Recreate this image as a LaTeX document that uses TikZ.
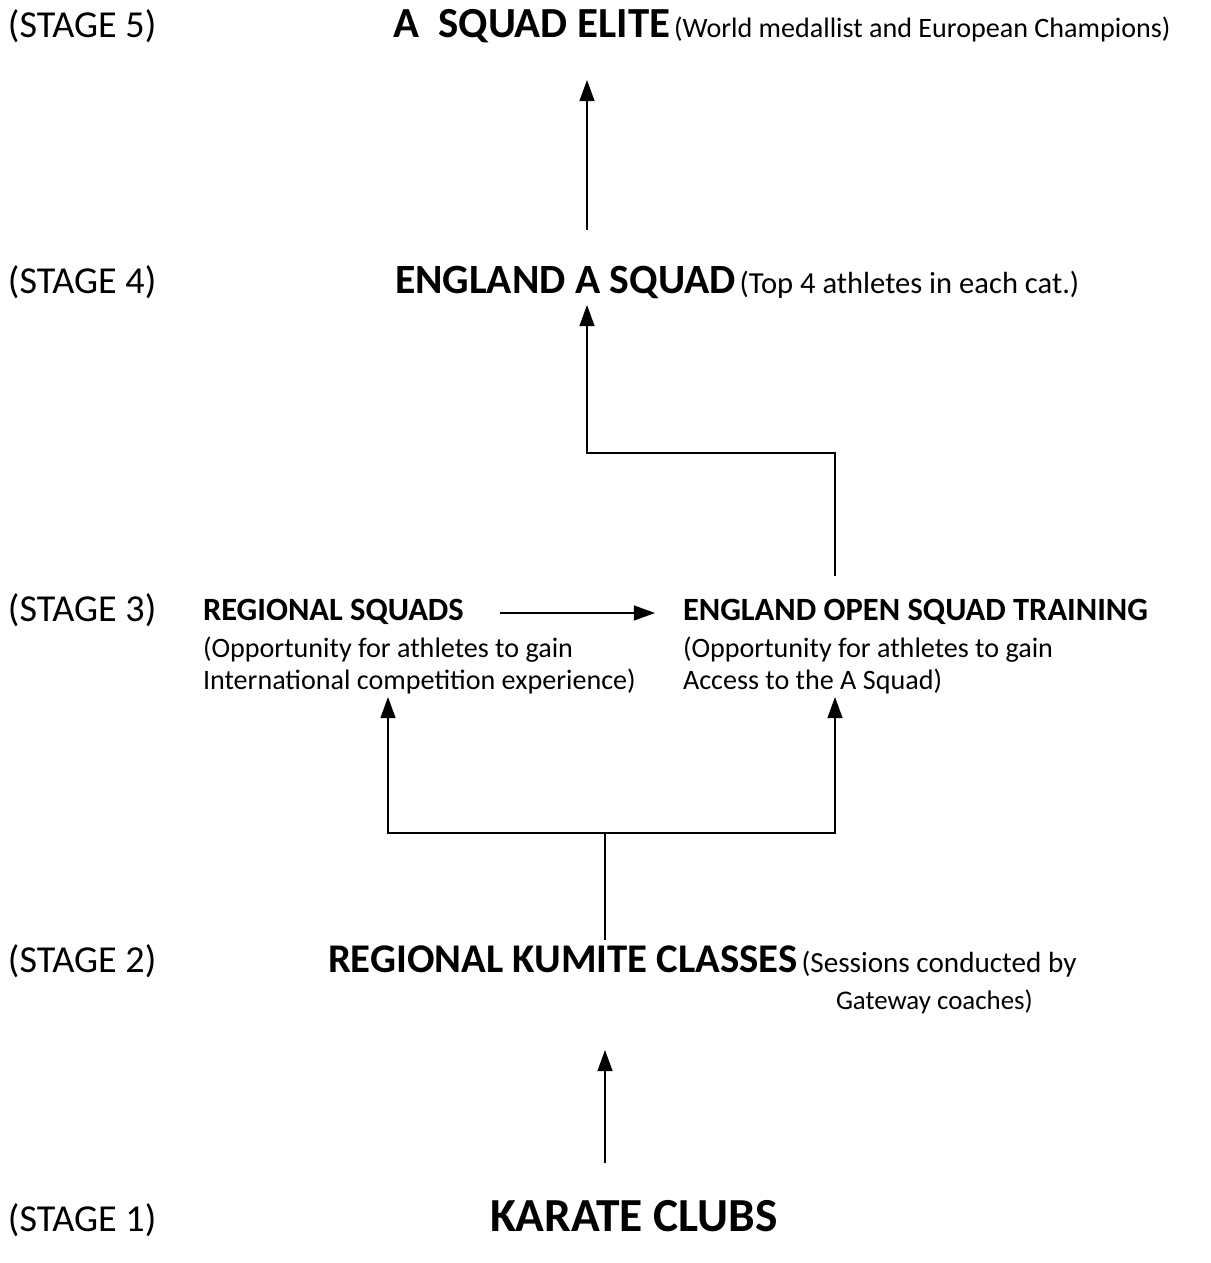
\documentclass[tikz,border=0pt]{standalone}
\usepackage{fontspec}
\setmainfont{Carlito}
\usetikzlibrary{arrows.meta}

\newcommand{\stagefont}{\fontsize{21.7}{25}\selectfont}
\newcommand{\headfont}{\fontsize{23.7}{28}\selectfont\bfseries}
\newcommand{\subheadfont}{\fontsize{18.5}{22}\selectfont\bfseries}
\newcommand{\notefont}{\fontsize{16.3}{19}\selectfont}
\newcommand{\bodyfont}{\fontsize{16}{18.2}\selectfont}

\begin{document}
\begin{tikzpicture}[x=0.02cm,y=-0.02cm,
		every node/.style={inner sep=0pt,outer sep=0pt,anchor=base west},
		stage/.style={font=\stagefont},
		arr/.style={line width=0.9pt,-{Triangle[length=12pt,width=8.5pt]}},
		ln/.style={line width=0.9pt}]
		\useasboundingbox (0,0) rectangle (1210,1263);
		% stage labels
		\node[stage] (s5) at (8,38) {(STAGE 5)};
		\node[stage] (s4) at (8,294) {(STAGE 4)};
		\node[stage] (s3) at (8,621) {(STAGE 3)};
		\node[stage] (s2) at (8,972) {(STAGE 2)};
		\node[stage] (s1) at (8,1231) {(STAGE 1)};
		% levels
		\node (elite) at (393,38) {{\headfont\fontsize{24.4}{28}\selectfont A\ \ SQUAD ELITE} {\notefont\fontsize{16}{19}\selectfont (World medallist and European Champions)}};
		\node (asquad) at (395,294) {{\headfont ENGLAND A SQUAD} {\notefont\fontsize{17.4}{20}\selectfont (Top 4 athletes in each cat.)}};
		\node[font=\subheadfont] (regsq) at (203,620) {REGIONAL SQUADS};
		\node[font=\bodyfont,align=left] (regtxt) at (203,689) {(Opportunity for athletes to gain\\International competition experience)};
		\node[font=\subheadfont] (open) at (683,620) {ENGLAND OPEN SQUAD TRAINING};
		\node[font=\bodyfont,align=left] (opentxt) at (683,689) {(Opportunity for athletes to gain\\Access to the A Squad)};
		\node (kumite) at (328,972) {{\headfont\fontsize{23.2}{28}\selectfont REGIONAL KUMITE CLASSES} {\notefont\fontsize{16.6}{19}\selectfont (Sessions conducted by}};
		\node[font=\notefont\fontsize{15.3}{18}\selectfont] (gateway) at (836,1009) {Gateway coaches)};
		\node[font=\headfont\fontsize{27}{32}\selectfont] (clubs) at (490,1231) {KARATE CLUBS};
		% connector points
		\coordinate (e1) at (587,230);
		\coordinate (e2) at (587,80);
		\coordinate (o1) at (835,576);
		\coordinate (o2) at (587,305);
		\coordinate (k1) at (605,940);
		\coordinate (k2) at (388,697);
		\coordinate (k3) at (835,697);
		\coordinate (c1) at (605,1163);
		\coordinate (c2) at (605,1050);
		\coordinate (r1) at (500,613);
		\coordinate (r2) at (655,613);
		% arrows
		\draw[arr] (e1) -- (e2);
		\draw[arr] (o1) -- (835,453) -| (o2);
		\draw[arr] (r1) -- (r2);
		\draw[ln] (k1) -- (605,833);
		\draw[arr] (605,833) -| (k2);
		\draw[arr] (605,833) -| (k3);
		\draw[arr] (c1) -- (c2);
\end{tikzpicture}
\end{document}
